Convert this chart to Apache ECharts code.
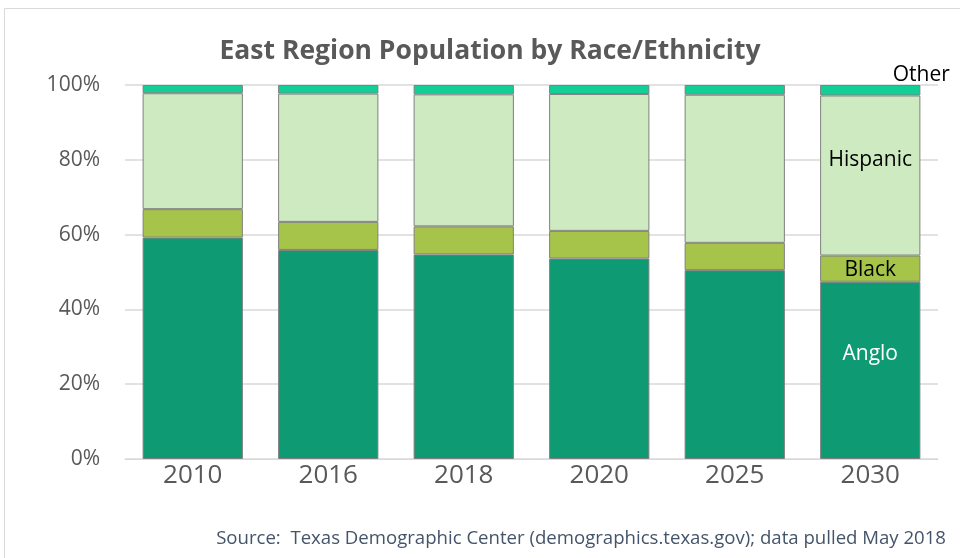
<!DOCTYPE html>
<html>
<head>
<meta charset="utf-8">
<script src="https://cdn.jsdelivr.net/npm/echarts@6/dist/echarts.min.js"></script>
<style>
  html, body { margin: 0; padding: 0; background: #fff; }
  #chart { width: 960px; height: 558px; }
</style>
</head>
<body>
<div id="chart"></div>
<script>
// data (percent of population)
var years = ['2010', '2016', '2018', '2020', '2025', '2030'];
var anglo = [59.2, 55.9, 54.7, 53.6, 50.5, 47.4];
var black = [7.6, 7.5, 7.5, 7.4, 7.3, 7.0];
var hispanic = [31.0, 34.3, 35.3, 36.6, 39.6, 42.8];
var other = [2.2, 2.3, 2.5, 2.4, 2.6, 2.8];
var yTicks = [0, 20, 40, 60, 80, 100];

var chart = echarts.init(document.getElementById('chart'));
var font = '"Open Sans", "Noto Sans", sans-serif';
var last = years.length - 1;

function lastLabel(color, extra) {
  var l = {
    show: true,
    color: color,
    fontSize: 21,
    fontFamily: font,
    formatter: function (p) { return p.dataIndex === last ? p.seriesName : ''; }
  };
  for (var k in extra) l[k] = extra[k];
  return l;
}

function bar(name, data, color, label) {
  return {
    name: name,
    type: 'bar',
    stack: 'total',
    data: data,
    barWidth: '74%',
    itemStyle: { color: color, borderColor: '#808080', borderWidth: 1 },
    label: label,
    emphasis: { disabled: true }
  };
}

chart.setOption({
  animation: false,
  backgroundColor: '#fff',
  title: {
    text: 'East Region Population by Race/Ethnicity',
    left: 485,
    textAlign: 'center',
    top: 33,
    textStyle: { color: '#595959', fontSize: 26.5, fontWeight: 'bold', fontFamily: font }
  },
  graphic: [
    {
      type: 'rect',
      shape: { x: 4.5, y: 8.5, width: 1000, height: 600 },
      style: { fill: 'none', stroke: '#d9d9d9', lineWidth: 1 },
      silent: true
    },
    {
      type: 'text',
      right: 14,
      top: 529,
      style: {
        text: 'Source:  Texas Demographic Center (demographics.texas.gov); data pulled May 2018',
        fill: '#44546a',
        fontSize: 18.6,
        fontFamily: font
      }
    }
  ],
  grid: { left: 125, right: 22, top: 85, bottom: 99, containLabel: false },
  xAxis: {
    type: 'category',
    data: years,
    axisLine: { lineStyle: { color: '#d9d9d9' } },
    axisTick: { show: false },
    axisLabel: { color: '#595959', fontSize: 26, fontFamily: font, margin: 4 }
  },
  yAxis: {
    type: 'value',
    min: yTicks[0],
    max: yTicks[yTicks.length - 1],
    interval: 20,
    axisLine: { show: false },
    axisTick: { show: false },
    splitLine: { lineStyle: { color: '#d9d9d9', width: 1.5 } },
    axisLabel: {
      color: '#595959', fontSize: 21, fontFamily: font, margin: 25,
      formatter: function (v) { return v + '%'; }
    }
  },
  series: [
    bar('Anglo', anglo, '#0e9a72', lastLabel('#ffffff', { position: 'inside', offset: [0, -16] })),
    bar('Black', black, '#a6c34a', lastLabel('#000000', { position: 'inside', offset: [0, 1] })),
    bar('Hispanic', hispanic, '#cdeac0', lastLabel('#000000', { position: 'inside', offset: [0, -15] })),
    bar('Other', other, '#12cf98', lastLabel('#000000', { position: 'top', offset: [51, 6] }))
  ]
});
</script>
</body>
</html>
